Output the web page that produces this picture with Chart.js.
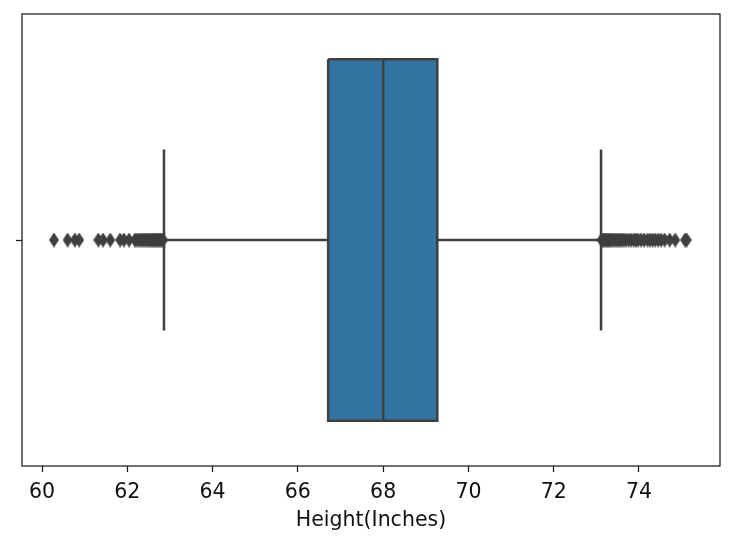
<!DOCTYPE html>
<html>
<head>
<meta charset="utf-8">
<script src="https://cdn.jsdelivr.net/npm/chart.js@4.4.1/dist/chart.umd.min.js"></script>
<style>
  html, body { margin: 0; padding: 0; background: #fff; }
  #wrap { width: 734px; height: 545px; }
</style>
</head>
<body>
<div id="wrap"><canvas id="boxChart"></canvas></div>
<script>
// box statistics (Height in inches)
const q1 = 66.71;
const median = 68.0;
const q3 = 69.27;
const whiskerLow = 62.86;
const whiskerHigh = 73.11;

const lowOutliers = [60.28, 60.6, 60.77, 60.87, 61.32, 61.43, 61.6, 61.83, 61.92, 62.04,
    62.18, 62.22, 62.27, 62.31, 62.35, 62.39, 62.43, 62.47, 62.5, 62.54, 62.57, 62.6,
    62.63, 62.66, 62.69, 62.72, 62.75, 62.78, 62.81, 62.84];
const highOutliers = [73.12, 73.15, 73.18, 73.21, 73.24, 73.27, 73.3, 73.33, 73.36, 73.4,
    73.44, 73.48, 73.52, 73.56, 73.6, 73.65, 73.7, 73.76, 73.82, 73.88, 73.93, 73.98,
    74.05, 74.12, 74.2, 74.26, 74.32, 74.38, 74.45, 74.52, 74.6, 74.72, 74.85, 75.08, 75.12];

const xTicks = [60, 62, 64, 66, 68, 70, 72, 74];
const xMin = 59.53, xMax = 75.9;

const boxColor = '#3274a1';
const lineColor = '#3f3f3f';
const textColor = '#111';

function diamond() {
    const c = document.createElement('canvas');
    c.width = 10; c.height = 15;
    const g = c.getContext('2d');
    g.fillStyle = lineColor;
    g.beginPath();
    g.moveTo(5, 0); g.lineTo(10, 7.5); g.lineTo(5, 15); g.lineTo(0, 7.5);
    g.closePath(); g.fill();
    return c;
}

const framePlugin = {
    id: 'frame',
    afterDraw(chart) {
        const a = chart.chartArea, ctx = chart.ctx;
        ctx.save();
        ctx.strokeStyle = '#1a1a1a';
        ctx.lineWidth = 1.25;
        ctx.strokeRect(a.left, a.top, a.right - a.left, a.bottom - a.top);
        ctx.restore();
    }
};

function seg(points) {
    return {
        type: 'line', data: points, borderColor: lineColor, borderWidth: 2.5,
        pointRadius: 0, fill: false, tension: 0, order: 1
    };
}

const outlierPts = lowOutliers.concat(highOutliers).map(v => ({x: v, y: 0}));

new Chart(document.getElementById('boxChart'), {
    type: 'scatter',
    data: {
        datasets: [
            { type: 'line', data: [{x: q1, y: -0.4}, {x: q3, y: -0.4}], borderWidth: 0,
              pointRadius: 0, fill: false, order: 10 },
            { type: 'line', data: [{x: q1, y: 0.4}, {x: q3, y: 0.4}], borderWidth: 0,
              pointRadius: 0, fill: '-1', backgroundColor: boxColor, order: 9 },
            seg([{x: whiskerLow, y: 0}, {x: q1, y: 0}]),
            seg([{x: q3, y: 0}, {x: whiskerHigh, y: 0}]),
            seg([{x: whiskerLow, y: -0.2}, {x: whiskerLow, y: 0.2}]),
            seg([{x: whiskerHigh, y: -0.2}, {x: whiskerHigh, y: 0.2}]),
            seg([{x: q1, y: -0.4}, {x: q3, y: -0.4}, {x: q3, y: 0.4}, {x: q1, y: 0.4}, {x: q1, y: -0.4}]),
            seg([{x: median, y: -0.4}, {x: median, y: 0.4}]),
            { type: 'scatter', data: outlierPts, pointStyle: diamond(), pointRadius: 5, order: 0 }
        ]
    },
    options: {
        responsive: true,
        maintainAspectRatio: false,
        animation: false,
        layout: { padding: { left: 0, right: 14, top: 14, bottom: 0 } },
        plugins: { legend: { display: false }, tooltip: { enabled: false } },
        scales: {
            x: {
                type: 'linear', min: xMin, max: xMax,
                afterBuildTicks: s => { s.ticks = xTicks.map(v => ({value: v})); },
                afterFit: s => { s.height = 79; },
                grid: { display: true, drawOnChartArea: false, tickLength: 6, color: '#1a1a1a', tickWidth: 1.25 },
                border: { display: false },
                ticks: { color: textColor, padding: 8, font: { family: 'DejaVu Sans', size: 20.5 } },
                title: { display: true, text: 'Height(Inches)', color: textColor, padding: { top: 0, bottom: 12 },
                         font: { family: 'DejaVu Sans', size: 20.5 } }
            },
            y: {
                type: 'linear', min: -0.5, max: 0.5, reverse: true,
                afterBuildTicks: s => { s.ticks = [{value: 0}]; },
                afterFit: s => { s.width = 22; },
                grid: { display: true, drawOnChartArea: false, tickLength: 6, color: '#1a1a1a', tickWidth: 1.25 },
                border: { display: false },
                ticks: { callback: () => '', padding: 0 }
            }
        }
    },
    plugins: [framePlugin]
});
</script>
</body>
</html>
